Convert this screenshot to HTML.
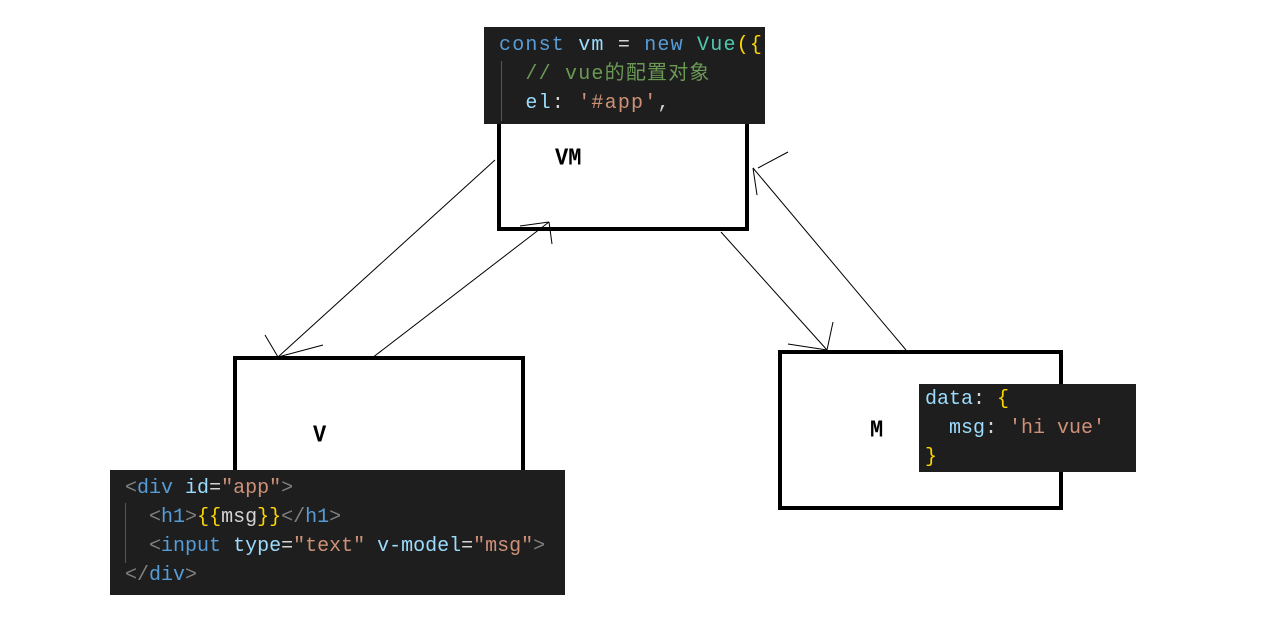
<!DOCTYPE html>
<html><head><meta charset="utf-8"><style>
body{margin:0;width:1261px;height:625px;background:#fff;position:relative;overflow:hidden}
.box{position:absolute;border:4px solid #000;box-sizing:border-box;background:#fff}
.lbl{position:absolute;font:bold 22px "Liberation Mono",monospace;color:#000;transform:scaleY(1.1)}
.code{position:absolute;background:#1e1e1e;font:20px/29px "Liberation Mono","Noto Sans CJK SC",monospace;color:#d4d4d4;white-space:pre;box-sizing:border-box}
.k{color:#569cd6}.t{color:#4ec9b0}.v{color:#9cdcfe}.s{color:#ce9178}.c{color:#6a9955}.g{color:#808080}.y{color:#ffd700}
.guide{position:absolute;width:1px;background:#555}
</style></head><body>
<div class="box" style="left:497px;top:100px;width:252px;height:131px"></div>
<div class="box" style="left:233px;top:356px;width:292px;height:130px"></div>
<div class="box" style="left:778px;top:350px;width:285px;height:160px"></div>
<svg width="1261" height="625" style="position:absolute;left:0;top:0">
<g stroke="#000" stroke-width="1" fill="none">
<line x1="495" y1="160" x2="278" y2="357"/><line x1="265" y1="335" x2="278" y2="357"/><line x1="323" y1="345" x2="278" y2="357"/>
<line x1="372" y1="358" x2="549" y2="222"/><line x1="520" y1="226" x2="549" y2="222"/><line x1="552" y1="244" x2="549" y2="222"/>
<line x1="721" y1="232" x2="827" y2="350"/><line x1="788" y1="344" x2="827" y2="350"/><line x1="833" y1="322" x2="827" y2="350"/>
<line x1="906" y1="350" x2="753" y2="168"/><line x1="788" y1="152" x2="758" y2="168"/><line x1="757" y1="195" x2="753" y2="168"/>
</g></svg>
<div class="lbl" style="left:555px;top:146px">VM</div>
<div class="lbl" style="left:313px;top:423px">V</div>
<div class="lbl" style="left:870px;top:418px">M</div>
<div class="code" style="left:484px;top:27px;width:281px;height:97px;padding:4px 0 0 15px;letter-spacing:1.2px"><span class="k">const</span> <span class="v">vm</span> = <span class="k">new</span> <span class="t">Vue</span><span class="y">({</span>
  <span class="c">// vue的配置对象</span>
  <span class="v">el</span>: <span class="s">'#app'</span>,</div>
<div class="guide" style="left:501px;top:61px;height:60px"></div>
<div class="code" style="left:110px;top:470px;width:455px;height:125px;padding:4px 0 0 15px"><span class="g">&lt;</span><span class="k">div</span> <span class="v">id</span>=<span class="s">"app"</span><span class="g">&gt;</span>
  <span class="g">&lt;</span><span class="k">h1</span><span class="g">&gt;</span><span class="y">{{</span>msg<span class="y">}}</span><span class="g">&lt;/</span><span class="k">h1</span><span class="g">&gt;</span>
  <span class="g">&lt;</span><span class="k">input</span> <span class="v">type</span>=<span class="s">"text"</span> <span class="v">v-model</span>=<span class="s">"msg"</span><span class="g">&gt;</span>
<span class="g">&lt;/</span><span class="k">div</span><span class="g">&gt;</span></div>
<div class="guide" style="left:125px;top:503px;height:60px"></div>
<div class="code" style="left:919px;top:384px;width:217px;height:88px;padding:1px 0 0 6px"><span class="v">data</span>: <span class="y">{</span>
  <span class="v">msg</span>: <span class="s">'hi vue'</span>
<span class="y">}</span></div>
</body></html>
